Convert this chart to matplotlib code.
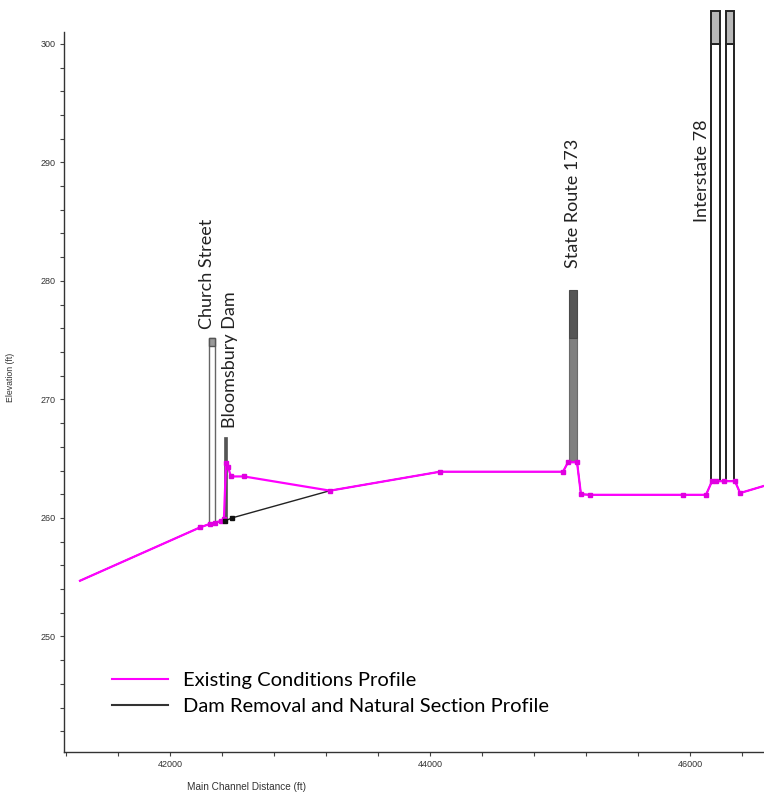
import matplotlib
matplotlib.use("Agg")
import matplotlib.pyplot as plt
from matplotlib.patches import Rectangle
from matplotlib.lines import Line2D
from matplotlib.ticker import MultipleLocator

# ---- data ----
ex_x = [41308, 42231, 42308, 42346, 42392, 42415, 42431, 42446, 42469, 42569, 43231,
        44077, 45023, 45062, 45131, 45161, 45231, 45946, 46123, 46169, 46200, 46260,
        46346, 46385, 46569]
ex_y = [254.7, 259.2, 259.5, 259.6, 259.75, 259.9, 264.6, 264.3, 263.5, 263.5, 262.3,
        263.9, 263.9, 264.7, 264.7, 262.0, 261.95, 261.95, 261.95, 263.1, 263.1, 263.1,
        263.1, 262.1, 262.7]

dr_x = [41308, 42231, 42308, 42346, 42423, 42477, 43231, 44077, 45023, 45062, 45131,
        45161, 45231, 45946, 46123, 46169, 46346, 46385, 46569]
dr_y = [254.7, 259.2, 259.5, 259.6, 259.75, 260.0, 262.3, 263.9, 263.9, 264.7, 264.7,
        262.0, 261.95, 261.95, 261.95, 263.1, 263.1, 262.1, 262.7]
dr_marker_x = [42423, 42477]
dr_marker_y = [259.75, 260.0]

structure_names = ["Church Street", "Bloomsbury Dam", "State Route 173", "Interstate 78"]
label_x = [42285, 42462, 45100, 46092]
label_y = [275.9, 267.6, 281.1, 285.0]

church_x = (42300, 42346); church_y = (259.5, 274.5, 275.2)
dam_x = (42412, 42438); dam_y = (259.8, 266.8)
sr173_x = (45069, 45131); sr173_y = (264.7, 275.2, 279.2)
i78_x = [(46165, 46234), (46273, 46342)]; i78_y = (263.1, 300.0, 302.8)

legend_labels = ["Existing Conditions Profile", "Dam Removal and Natural Section Profile"]

# ---- figure ----
fig = plt.figure(figsize=(7.64, 7.97), dpi=100)
ax = fig.add_axes([64/764, 45/797, 700/764, 720/797])
ax.set_xlim(41185, 46569)
ax.set_ylim(240.25, 301.0)

for s in ("top", "right"):
    ax.spines[s].set_visible(False)
for s in ("left", "bottom"):
    ax.spines[s].set_color("#333333")
    ax.spines[s].set_linewidth(1.0)

ax.xaxis.set_major_locator(MultipleLocator(2000))
ax.xaxis.set_minor_locator(MultipleLocator(400))
ax.yaxis.set_major_locator(MultipleLocator(10))
ax.yaxis.set_minor_locator(MultipleLocator(2))
ax.tick_params(which="both", length=3, width=0.8, color="#444444",
               labelsize=6.5, labelcolor="#333333", pad=3)
for lab in ax.get_xticklabels() + ax.get_yticklabels():
    lab.set_family("Liberation Sans")
ax.set_xlabel("Main Channel Distance (ft)", fontsize=7.2, family="Liberation Sans",
              color="#333333", va="center")
ax.xaxis.set_label_coords(0.261, -0.049)
ax.set_ylabel("Elevation (ft)", fontsize=6.3, family="Liberation Sans",
              color="#333333")
ax.yaxis.set_label_coords(-0.07, 0.52)

# structures
ax.add_patch(Rectangle((church_x[0], church_y[0]), church_x[1]-church_x[0],
                       church_y[2]-church_y[0], facecolor="white", edgecolor="#666666", lw=1.0, zorder=2))
ax.add_patch(Rectangle((church_x[0], church_y[1]), church_x[1]-church_x[0],
                       church_y[2]-church_y[1], facecolor="#999999", edgecolor="#555555", lw=1.0, zorder=2))
ax.add_patch(Rectangle((dam_x[0], dam_y[0]), dam_x[1]-dam_x[0], dam_y[1]-dam_y[0],
                       facecolor="#555555", edgecolor="#555555", lw=0.5, zorder=2))
ax.add_patch(Rectangle((sr173_x[0], sr173_y[0]), sr173_x[1]-sr173_x[0], sr173_y[1]-sr173_y[0],
                       facecolor="#808080", edgecolor="#6a6a6a", lw=0.8, zorder=2))
ax.add_patch(Rectangle((sr173_x[0], sr173_y[1]), sr173_x[1]-sr173_x[0], sr173_y[2]-sr173_y[1],
                       facecolor="#555555", edgecolor="#4a4a4a", lw=0.8, zorder=2))
for x0, x1 in i78_x:
    ax.add_patch(Rectangle((x0, i78_y[0]), x1-x0, i78_y[1]-i78_y[0],
                           facecolor="white", edgecolor="#222222", lw=1.4, zorder=2))
    ax.add_patch(Rectangle((x0, i78_y[1]), x1-x0, i78_y[2]-i78_y[1],
                           facecolor="#b8b8b8", edgecolor="#222222", lw=1.4, zorder=2,
                           clip_on=False))

# profiles
ax.plot(dr_x, dr_y, color="#222222", lw=1.0, zorder=3)
ax.plot(ex_x, ex_y, color="#ff00ff", lw=1.6, zorder=4)
ax.plot(ex_x[1:-1], ex_y[1:-1], linestyle="none", marker="s", markersize=3.2,
        color="#e000e0", zorder=5)
ax.plot(dr_marker_x, dr_marker_y, linestyle="none", marker="s", markersize=3.2,
        color="#111111", zorder=6)

# labels
for name, lx, ly in zip(structure_names, label_x, label_y):
    ax.text(lx, ly, name, rotation=90, ha="center", va="bottom", fontsize=13,
            family="Lato", color="#222222", zorder=7)

# legend
handles = [Line2D([], [], color="#ff00ff", lw=1.5),
           Line2D([], [], color="#333333", lw=1.5)]
fig.legend(handles, legend_labels, loc="upper left",
           bbox_to_anchor=(112/764, 1-672/797), frameon=False,
           prop={"family": "Lato", "size": 14.5}, handlelength=2.8,
           handletextpad=0.75, labelspacing=0.45, borderpad=0, borderaxespad=0)

fig.savefig("out.png", dpi=100)
